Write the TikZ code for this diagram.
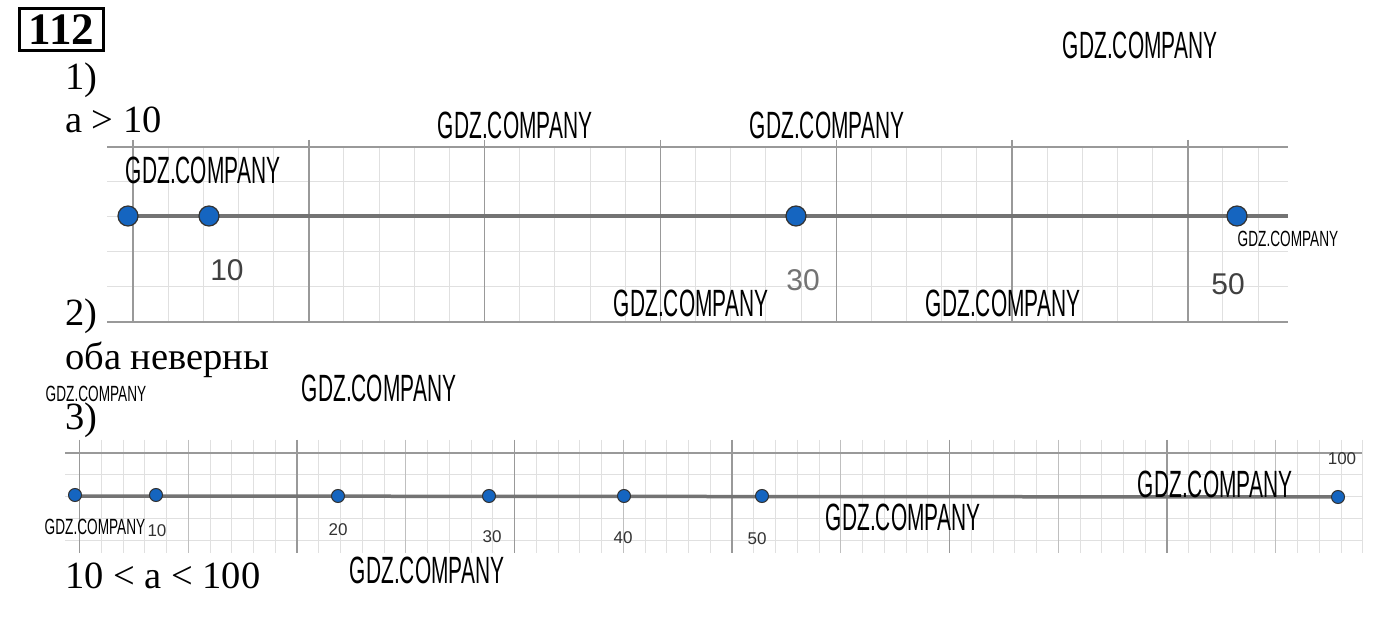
\documentclass[tikz,border=0pt]{standalone}
\usepackage{fontspec}
\setmainfont{Liberation Serif}
\setsansfont{Liberation Sans}
\newfontfamily\wmfont[FakeStretch=0.55]{Liberation Sans}
\newfontfamily\swmfont[FakeStretch=0.62]{Liberation Sans}
\usetikzlibrary{positioning}
\definecolor{dotblue}{RGB}{21,101,192}

\begin{document}
\begin{tikzpicture}[x=1pt,y=-1pt,
  dot/.style={draw=black!80, circle, fill=dotblue, inner sep=0pt, minimum size=20pt, line width=1.2pt},
  sdot/.style={dot, minimum size=13pt, line width=1pt},
  num/.style={font=\sffamily\fontsize{30}{30}\selectfont, text=black!75, inner sep=0pt},
  snum/.style={font=\sffamily\fontsize{17}{17}\selectfont, text=black!80, inner sep=0pt},
  txt/.style={anchor=base west, font=\fontsize{38.5}{38.5}\selectfont, inner sep=0pt},
  wm/.style={font=\wmfont\fontsize{38}{38}\selectfont, inner sep=0pt},
  swm/.style={font=\swmfont\fontsize{22}{22}\selectfont, inner sep=0pt},
  minor/.style={black!12, line width=1pt},
  medium/.style={black!25, line width=1.2pt},
  major/.style={black!40, line width=1.4pt},
  axis/.style={black!55, line width=4.5pt}]
  \useasboundingbox[fill=white] (0,0) rectangle (1393,617);

  % grid 1
  \foreach \i in {0,...,32}
    \draw[minor] ({133+35.16*\i},147) -- ({133+35.16*\i},323);
  \foreach \y in {182,217,252,287}
    \draw[minor] (107,\y) -- (1288,\y);
  \foreach \y in {147,322}
    \draw[major] (107,\y) -- (1288,\y);
  \foreach \k in {0,...,6}
    \draw[major] ({133+175.8*\k},140) -- ({133+175.8*\k},323);

  % grid 3
  \foreach \i in {0,...,59}
    \draw[minor] ({79.5+21.75*\i},440) -- ({79.5+21.75*\i},553);
  \foreach \y in {474.75,496.5,518.25,540}
    \draw[minor] (65,\y) -- (1362,\y);
  \foreach \k in {0,...,5}
    \draw[medium] ({188.25+217.5*\k},440) -- ({188.25+217.5*\k},553);
  \foreach \k in {0,...,5}
    \draw[major] ({79.5+217.5*\k},440) -- ({79.5+217.5*\k},553);
  \draw[major] (65,453) -- (1362,453);

  % axes
  \coordinate (a1L) at (128,216);
  \coordinate (a1R) at (1288,216);
  \coordinate (a3L) at (75,496);
  \coordinate (a3R) at (1338,497);
  \draw[axis] (a1L) -- (a1R);
  \draw[axis, line width=3.5pt] (a3L) -- (a3R);

  % points
  \node[dot] (p0) at (128,216) {};
  \node[dot] (p10) at (209,216) {};
  \node[dot] (p30) at (796,216) {};
  \node[dot] (p50) at (1237,216) {};
  \node[num] (l10) at (227,270) {10};
  \node[num, text=black!55] (l30) at (803,280) {30};
  \node[num] (l50) at (1228,284) {50};

  \node[sdot] (q0) at (75,495) {};
  \node[sdot] (q10) at (156,495) {};
  \node[sdot] (q20) at (338,496) {};
  \node[sdot] (q30) at (489,496) {};
  \node[sdot] (q40) at (624,496) {};
  \node[sdot] (q50) at (762,496) {};
  \node[sdot] (q100) at (1338,497) {};
  \node[snum] (m10) at (157,531) {10};
  \node[snum] (m20) at (338,530) {20};
  \node[snum] (m30) at (492,537) {30};
  \node[snum] (m40) at (623,538) {40};
  \node[snum] (m50) at (757,539) {50};
  \node[snum] (m100) at (1342,459) {100};

  % text
  \node[draw, line width=3pt, font=\bfseries\fontsize{45}{45}\selectfont, minimum width=84pt, minimum height=42pt, inner sep=0pt] (task) at (61.5,30) {112};
  \node[txt] (t1) at (65,90) {1)};
  \node[txt] (a1) at (65,133) {a > 10};
  \node[txt] (t2) at (65,326) {2)};
  \node[txt] (a2) at (65,370) {оба неверны};
  \node[txt] (t3) at (65,430) {3)};
  \node[txt] (a3) at (65,588) {10 < a < 100};

  % watermarks
  \node[wm] (w1) at (1140,45) {GDZ.COMPANY};
  \node[wm] (w2) at (515,125) {GDZ.COMPANY};
  \node[wm] (w3) at (827,125) {GDZ.COMPANY};
  \node[wm] (w4) at (203,170) {GDZ.COMPANY};
  \node[swm] (w5) at (1288,239) {GDZ.COMPANY};
  \node[wm] (w6) at (691,303) {GDZ.COMPANY};
  \node[wm] (w7) at (1003,303) {GDZ.COMPANY};
  \node[swm] (w8) at (96,394) {GDZ.COMPANY};
  \node[wm] (w9) at (379,388) {GDZ.COMPANY};
  \node[wm] (w10) at (1215,484) {GDZ.COMPANY};
  \node[wm] (w11) at (903,517) {GDZ.COMPANY};
  \node[swm] (w12) at (95,527) {GDZ.COMPANY};
  \node[wm] (w13) at (427,570) {GDZ.COMPANY};
\end{tikzpicture}
\end{document}
